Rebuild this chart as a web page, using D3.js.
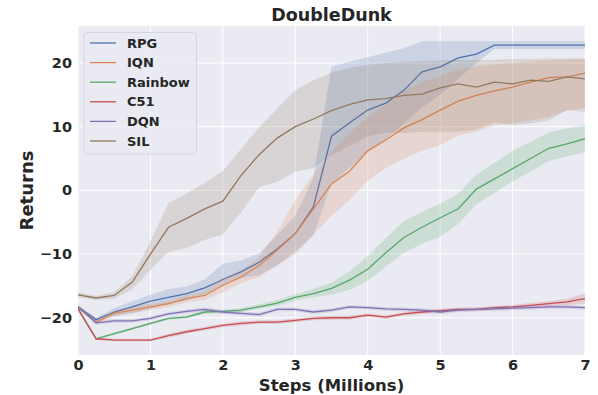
<!DOCTYPE html>
<html><head><meta charset="utf-8">
<script src="https://cdn.jsdelivr.net/npm/d3@7"></script>
<style>
html,body{margin:0;padding:0;background:#fff;}
text{font-family:"DejaVu Sans",sans-serif;font-weight:bold;fill:#262626;}
</style></head>
<body><svg id="c" width="598" height="395"></svg>
<script>
const steps = d3.range(0, 7.001, 0.25);
const seriesNames = ["RPG","IQN","Rainbow","C51","DQN","SIL"];
const colors = ["#4C72B0","#DD8452","#55A868","#C44E52","#8172B3","#937860"];
const xTicks = [0,1,2,3,4,5,6,7];
const yTicks = [-20,-10,0,10,20];

const rpgMean  = [-18.3,-20.3,-19.1,-18.3,-17.4,-16.8,-16.2,-15.3,-14.0,-12.8,-11.3,-9.2,-6.8,-2.6,8.5,10.6,12.6,13.7,15.7,18.6,19.4,20.8,21.4,22.8,22.8,22.8,22.8,22.8,22.8];
const rpgLow   = [-18.6,-20.6,-19.8,-19.3,-18.6,-17.9,-17.3,-16.3,-14.9,-13.8,-13.3,-11.8,-9.6,-7.0,1.0,3.5,6.0,8.0,10.5,13.0,15.0,17.5,20.0,22.2,22.2,22.2,22.2,22.2,22.2];
const rpgHigh  = [-18.0,-20.0,-18.5,-17.4,-16.4,-15.5,-15.1,-14.0,-11.5,-11.0,-9.9,-7.0,-4.0,2.0,19.4,20.2,20.9,21.6,22.3,23.4,23.4,23.4,23.4,23.4,23.4,23.4,23.4,23.4,23.4];

const iqnMean  = [-18.3,-20.7,-19.3,-18.8,-18.3,-17.8,-17.0,-16.5,-14.9,-13.6,-11.8,-9.4,-6.8,-2.9,1.0,3.0,6.2,7.9,9.8,11.1,12.6,14.0,14.9,15.6,16.2,17.0,17.7,17.8,18.4];
const iqnLow   = [-18.6,-21.0,-19.7,-19.3,-18.8,-18.3,-17.6,-17.2,-16.0,-14.6,-13.6,-11.8,-10.0,-7.0,-4.0,-1.5,1.5,3.5,5.0,6.2,7.1,8.6,9.2,10.2,10.5,11.0,11.5,12.5,13.0];
const iqnHigh  = [-18.0,-20.4,-18.9,-18.3,-17.8,-17.3,-16.4,-15.8,-13.8,-12.6,-10.5,-6.5,-1.5,2.5,6.0,9.0,11.5,13.5,15.5,17.0,18.0,19.0,19.5,19.8,20.0,20.2,20.4,20.5,20.6];

const rainbowMean = [-18.6,-23.3,-22.5,-21.7,-20.9,-20.1,-19.9,-19.1,-19.0,-18.8,-18.3,-17.7,-16.8,-16.2,-15.4,-14.1,-12.4,-9.8,-7.4,-5.8,-4.3,-2.9,0.2,1.8,3.4,5.0,6.6,7.3,8.1];
const rainbowLow  = [-18.8,-23.5,-22.7,-21.9,-21.1,-20.3,-20.1,-19.4,-19.3,-19.1,-18.6,-18.1,-17.3,-16.8,-16.4,-15.6,-14.2,-12.0,-9.8,-8.4,-7.3,-5.3,-2.2,-0.4,1.4,3.0,4.6,5.3,6.0];
const rainbowHigh = [-18.4,-23.1,-22.3,-21.5,-20.7,-19.9,-19.6,-18.8,-18.7,-18.5,-17.9,-17.2,-16.3,-15.5,-14.5,-12.7,-10.3,-7.5,-4.8,-3.4,-2.1,-0.5,2.5,4.3,6.2,7.6,9.1,9.7,10.2];

const c51Mean  = [-18.6,-23.3,-23.5,-23.5,-23.5,-22.8,-22.2,-21.7,-21.2,-20.9,-20.7,-20.7,-20.4,-20.1,-20.0,-20.0,-19.6,-19.9,-19.4,-19.1,-18.9,-18.7,-18.7,-18.4,-18.3,-18.05,-17.8,-17.5,-17.0];
const c51Low   = [-18.8,-23.5,-23.7,-23.7,-23.7,-23.1,-22.5,-22.0,-21.5,-21.2,-21.0,-21.0,-20.7,-20.4,-20.3,-20.3,-19.9,-20.2,-19.7,-19.4,-19.2,-19.0,-19.0,-18.7,-18.6,-18.4,-18.2,-18.0,-17.8];
const c51High  = [-18.4,-23.1,-23.3,-23.3,-23.3,-22.5,-21.9,-21.4,-20.9,-20.6,-20.4,-20.4,-20.1,-19.8,-19.7,-19.7,-19.3,-19.6,-19.1,-18.8,-18.6,-18.4,-18.4,-18.1,-18.0,-17.7,-17.4,-17.0,-16.2];

const dqnMean  = [-18.3,-20.8,-20.5,-20.5,-20.1,-19.4,-19.0,-18.7,-19.1,-19.3,-19.5,-18.7,-18.7,-19.1,-18.8,-18.3,-18.4,-18.6,-18.7,-18.8,-19.1,-18.8,-18.7,-18.6,-18.5,-18.4,-18.3,-18.3,-18.4];
const dqnLow   = [-18.6,-21.1,-20.8,-20.8,-20.4,-19.7,-19.3,-19.0,-19.4,-19.6,-19.8,-19.0,-19.0,-19.4,-19.1,-18.6,-18.7,-18.9,-19.0,-19.1,-19.4,-19.1,-19.0,-18.9,-18.8,-18.7,-18.6,-18.6,-18.7];
const dqnHigh  = [-18.0,-20.5,-20.2,-20.2,-19.8,-19.1,-18.7,-18.4,-18.8,-19.0,-19.2,-18.4,-18.4,-18.8,-18.5,-18.0,-18.1,-18.3,-18.4,-18.5,-18.8,-18.5,-18.4,-18.3,-18.2,-18.1,-18.0,-18.0,-18.1];

const silMean  = [-16.4,-16.9,-16.5,-14.4,-10.0,-5.8,-4.4,-2.9,-1.7,2.3,5.6,8.2,10.0,11.2,12.5,13.5,14.2,14.4,14.9,15.1,16.1,16.7,16.2,17.0,16.7,17.3,17.1,17.8,17.5];
const silLow   = [-16.8,-17.2,-17.0,-15.5,-12.5,-9.7,-9.0,-7.8,-6.9,-3.5,0.5,1.3,2.9,3.5,5.5,7.0,8.5,9.0,9.0,9.2,9.2,9.2,9.5,10.7,10.2,10.5,11.0,12.6,12.3];
const silHigh  = [-16.0,-16.6,-16.0,-13.5,-8.0,-2.0,-0.5,1.2,3.0,6.5,9.9,12.8,15.7,17.3,18.5,19.2,19.7,20.0,20.2,20.3,20.4,20.5,20.5,20.5,20.6,20.6,20.7,20.7,20.7];

const series = [
  {mean: rpgMean, low: rpgLow, high: rpgHigh},
  {mean: iqnMean, low: iqnLow, high: iqnHigh},
  {mean: rainbowMean, low: rainbowLow, high: rainbowHigh},
  {mean: c51Mean, low: c51Low, high: c51High},
  {mean: dqnMean, low: dqnLow, high: dqnHigh},
  {mean: silMean, low: silLow, high: silHigh}
];

const svg = d3.select("#c");
const L = 78, R = 585, T = 26, B = 355;
const x = d3.scaleLinear().domain([0,7]).range([L,R]);
const y = d3.scaleLinear().domain([-25.85,25.8]).range([B,T]);

svg.append("rect").attr("x",L).attr("y",T).attr("width",R-L).attr("height",B-T).attr("fill","#EAEAF2");

// grid
svg.append("g").selectAll("line").data(xTicks).join("line")
  .attr("x1",d=>x(d)).attr("x2",d=>x(d)).attr("y1",T).attr("y2",B)
  .attr("stroke","#fff").attr("stroke-width",1);
svg.append("g").selectAll("line").data(yTicks).join("line")
  .attr("x1",L).attr("x2",R).attr("y1",d=>y(d)).attr("y2",d=>y(d))
  .attr("stroke","#fff").attr("stroke-width",1);

svg.append("clipPath").attr("id","pc").append("rect")
  .attr("x",L).attr("y",T).attr("width",R-L).attr("height",B-T);
const plot = svg.append("g").attr("clip-path","url(#pc)");

const area = d3.area().x((d,i)=>x(steps[i])).y0(d=>y(d[0])).y1(d=>y(d[1]));
const line = d3.line().x((d,i)=>x(steps[i])).y(d=>y(d));

series.forEach((s,k)=>{
  const band = s.low.map((lo,i)=>[lo, s.high[i]]);
  plot.append("path").attr("d",area(band)).attr("fill",colors[k]).attr("fill-opacity",0.2).attr("stroke","none");
  plot.append("path").attr("d",line(s.mean)).attr("fill","none").attr("stroke",colors[k]).attr("stroke-width",1.3);
});

// axes
const xAxis = d3.axisBottom(x).tickValues(xTicks).tickSize(0).tickPadding(5).tickFormat(d3.format("d"));
const gx = svg.append("g").attr("transform",`translate(0,${B})`).call(xAxis);
gx.select(".domain").remove();
gx.selectAll("text").style("font-size","14.5px").attr("fill","#262626");

const yAxis = d3.axisLeft(y).tickValues(yTicks).tickSize(0).tickPadding(6).tickFormat(d=>d<0?"\u2212"+Math.abs(d):d);
const gy = svg.append("g").attr("transform",`translate(${L},0)`).call(yAxis);
gy.select(".domain").remove();
gy.selectAll("text").style("font-size","14.5px").attr("fill","#262626");

// titles
svg.append("text").attr("x",(L+R)/2).attr("y",21).attr("text-anchor","middle").style("font-size","17.5px").text("DoubleDunk");
svg.append("text").attr("x",(L+R)/2).attr("y",390.5).attr("text-anchor","middle").style("font-size","16.5px").text("Steps (Millions)");
svg.append("text").attr("transform",`translate(33,${(T+B)/2}) rotate(-90)`).attr("text-anchor","middle").style("font-size","18px").text("Returns");

// legend
const lg = svg.append("g");
lg.append("rect").attr("x",84).attr("y",32.5).attr("width",112.5).attr("height",121.5).attr("rx",3)
  .attr("fill","#EAEAF2").attr("fill-opacity",0.8).attr("stroke","#d6d6de").attr("stroke-width",1);
seriesNames.forEach((n,i)=>{
  const yy = 43 + i*19.6;
  lg.append("line").attr("x1",90).attr("x2",116).attr("y1",yy).attr("y2",yy).attr("stroke",colors[i]).attr("stroke-width",1.3);
  lg.append("text").attr("x",127).attr("y",yy).attr("dy","0.36em").style("font-size","13px").text(n);
});
</script></body></html>
